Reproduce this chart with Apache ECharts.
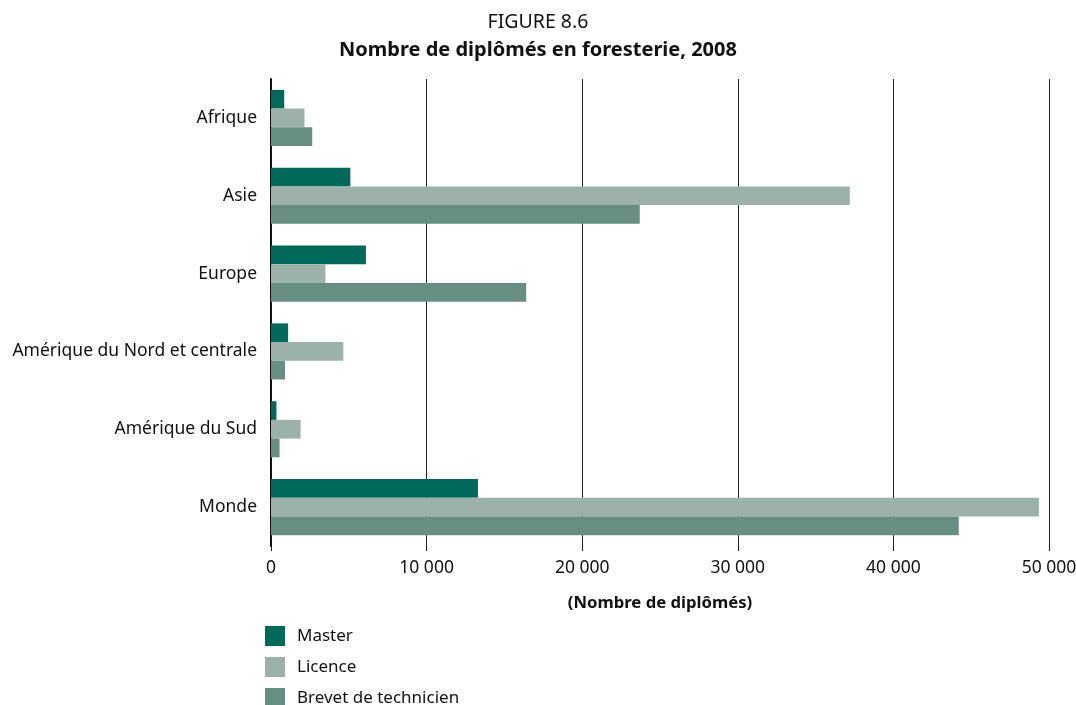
<!DOCTYPE html>
<html>
<head>
<meta charset="utf-8">
<script src="https://cdn.jsdelivr.net/npm/echarts@6/dist/echarts.min.js"></script>
<style>
  html, body { margin: 0; padding: 0; background: #ffffff; }
  #chart { width: 1076px; height: 705px; }
</style>
</head>
<body>
<div id="chart"></div>
<script>
// Forestry graduates by region, 2008
const regions = ['Afrique', 'Asie', 'Europe', 'Amérique du Nord et centrale', 'Amérique du Sud', 'Monde'];
const master = [850, 5100, 6100, 1100, 350, 13300];
const licence = [2150, 37200, 3500, 4650, 1900, 49350];
const brevet = [2650, 23700, 16400, 900, 550, 44200];
const seriesNames = ['Master', 'Licence', 'Brevet de technicien'];
const xTicks = [0, 10000, 20000, 30000, 40000, 50000];

const FONT = 'Noto Sans';
const colors = ['#00695a', '#9bb1aa', '#678e83'];

function fmt(v) {
  return String(v).replace(/\B(?=(\d{3})+(?!\d))/g, ' ');
}

const chart = echarts.init(document.getElementById('chart'), null, { renderer: 'canvas' });

function bar(name, data, color) {
  return {
    name: name,
    type: 'bar',
    data: data,
    barWidth: 18.7,
    barGap: '0%',
    itemStyle: { color: color },
    emphasis: { disabled: true }
  };
}

chart.setOption({
  animation: false,
  textStyle: { fontFamily: FONT },
  title: [
    {
      text: 'FIGURE 8.6',
      left: 'center',
      top: 7,
      textStyle: { fontFamily: FONT, fontSize: 19.5, fontWeight: 'normal', color: '#111' }
    },
    {
      text: 'Nombre de diplômés en foresterie, 2008',
      left: 'center',
      top: 35,
      textStyle: { fontFamily: FONT, fontSize: 20, fontWeight: 'bold', color: '#111' }
    }
  ],
  legend: {
    orient: 'vertical',
    left: 265,
    top: 626,
    height: 140,
    itemWidth: 20,
    itemHeight: 20,
    itemGap: 11,
    icon: 'rect',
    padding: 0,
    data: seriesNames,
    textStyle: { fontFamily: FONT, fontSize: 17, color: '#111', padding: [0, 0, 0, 7] }
  },
  grid: { left: 271, right: 27, top: 79, bottom: 159, containLabel: false, outerBoundsMode: 'none' },
  xAxis: {
    type: 'value',
    min: xTicks[0],
    max: xTicks[xTicks.length - 1],
    interval: xTicks[1] - xTicks[0],
    name: '(Nombre de diplômés)',
    nameLocation: 'middle',
    nameGap: 49,
    nameTextStyle: { fontFamily: FONT, fontSize: 16.7, fontWeight: 'bold', color: '#111' },
    axisLine: { show: false },
    axisTick: { show: true, length: 5, lineStyle: { color: '#222', width: 1 } },
    axisLabel: { formatter: fmt, fontFamily: FONT, fontSize: 17.5, color: '#111', margin: 13 },
    splitLine: { show: true, lineStyle: { color: '#222', width: 1 } }
  },
  yAxis: {
    type: 'category',
    data: regions,
    inverse: true,
    axisLine: { show: true, lineStyle: { color: '#111', width: 2 } },
    axisTick: { show: false },
    axisLabel: { fontFamily: FONT, fontSize: 17.5, color: '#111', margin: 14 }
  },
  series: [
    bar(seriesNames[0], master, colors[0]),
    bar(seriesNames[1], licence, colors[1]),
    bar(seriesNames[2], brevet, colors[2])
  ]
});
</script>
</body>
</html>
